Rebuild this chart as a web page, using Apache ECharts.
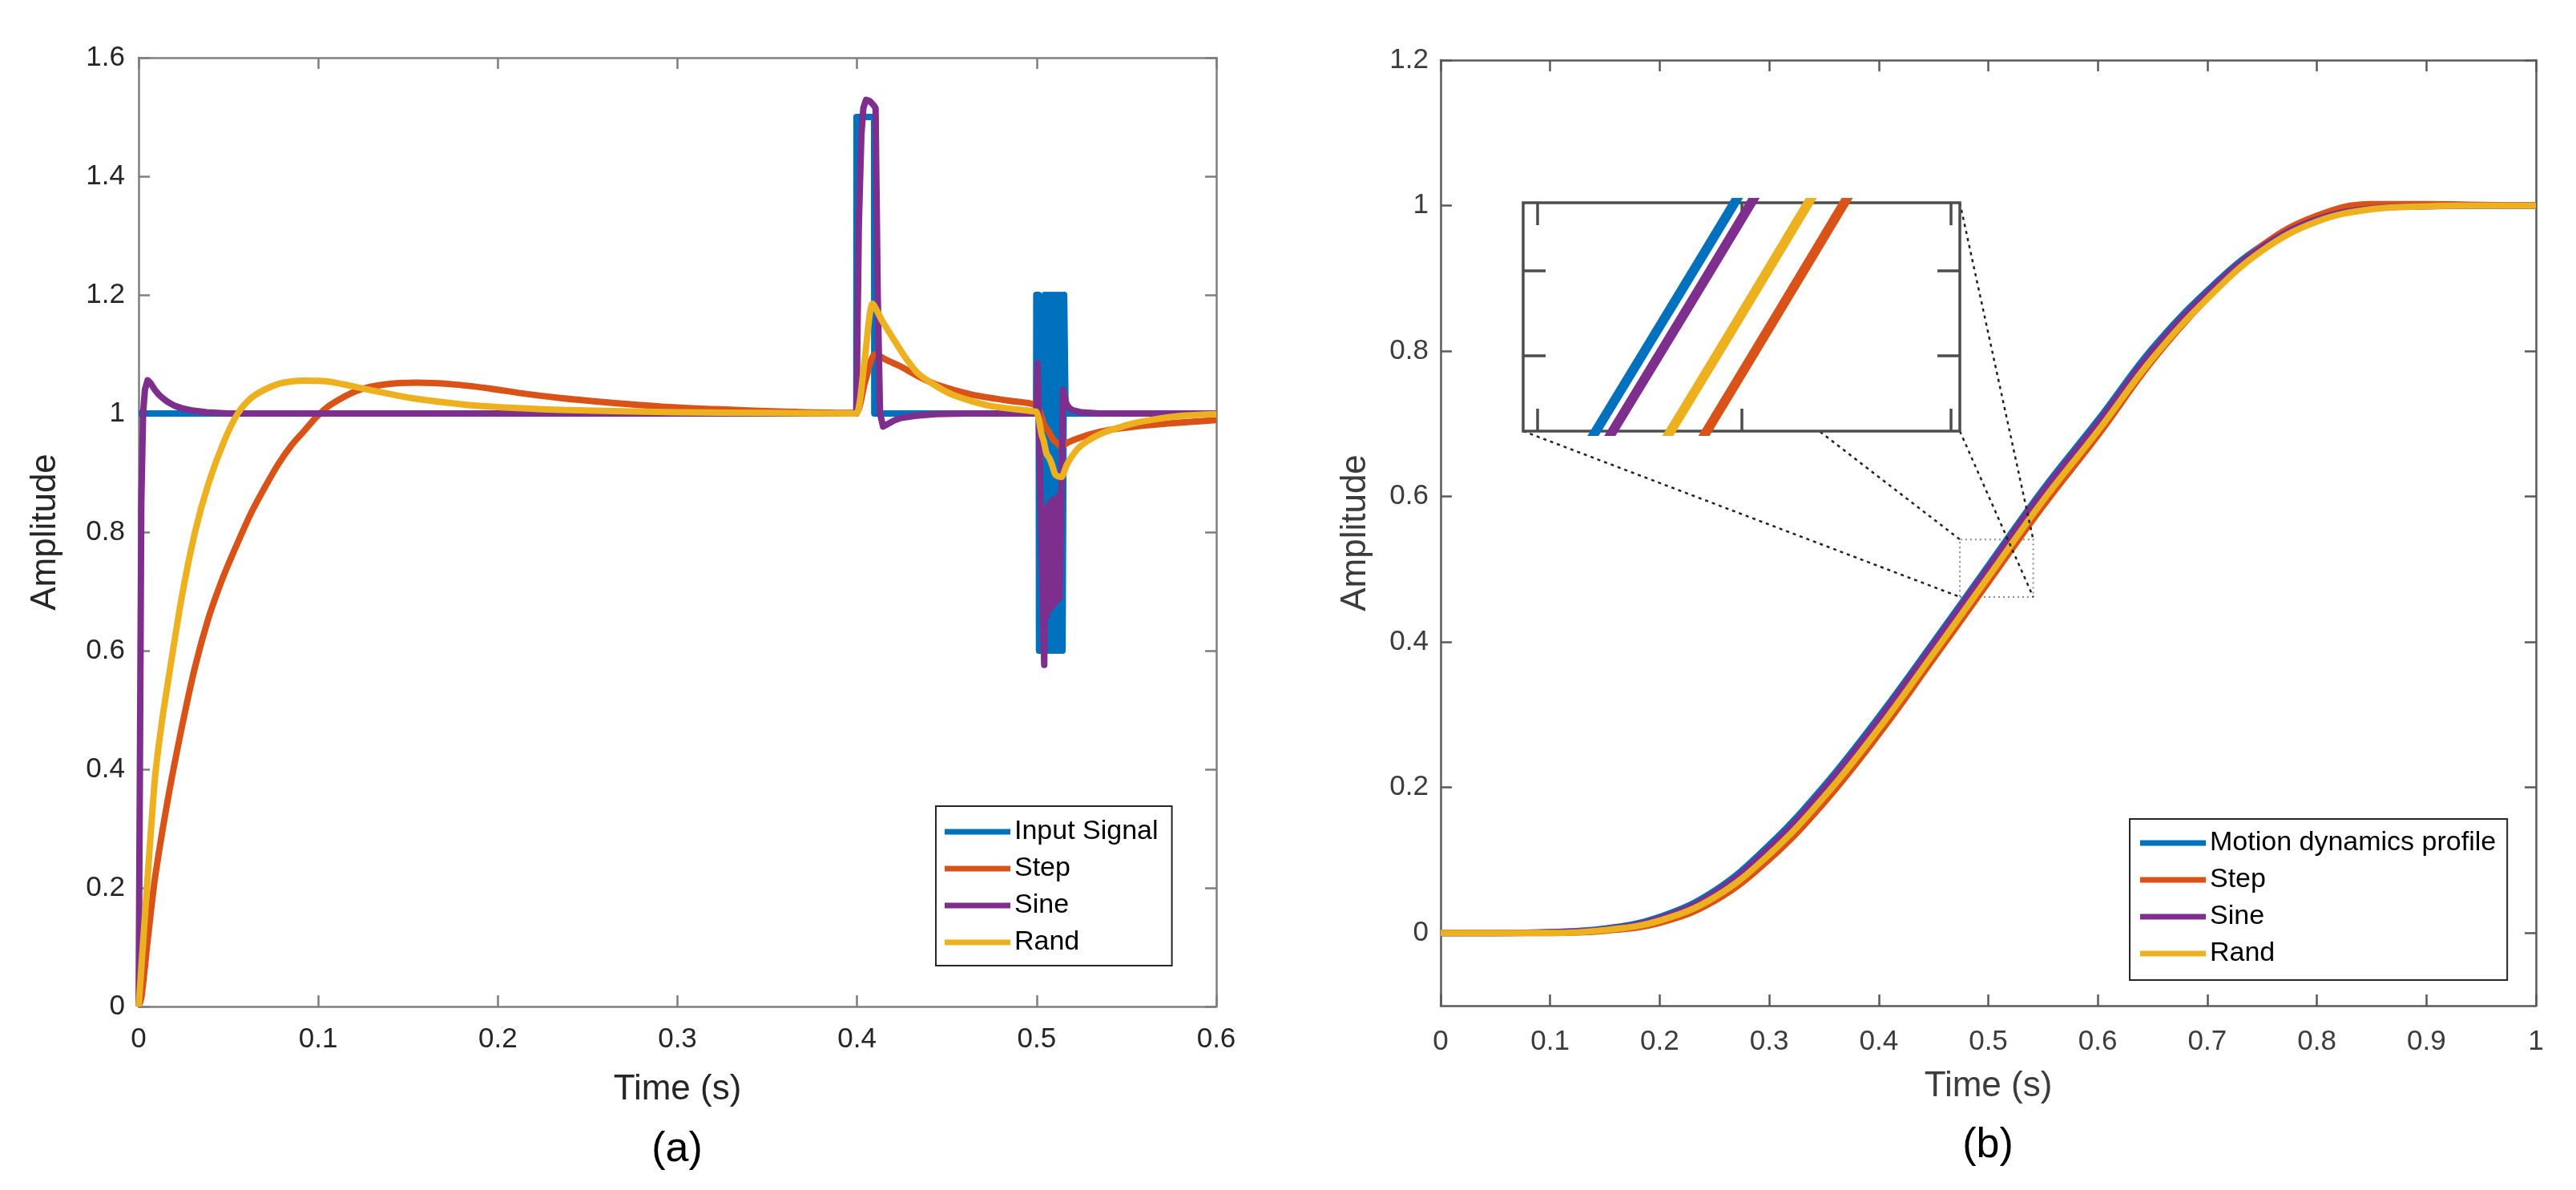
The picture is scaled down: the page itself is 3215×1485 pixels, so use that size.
<!DOCTYPE html>
<html>
<head>
<meta charset="utf-8">
<title>Amplitude responses</title>
<script src="https://cdn.jsdelivr.net/npm/echarts@6/dist/echarts.min.js"></script>
<style>
html, body { margin: 0; padding: 0; background: #fff; }
#main { width: 3215px; height: 1485px; }
</style>
</head>
<body>
<div id="main"></div>
<script type="text/javascript">
// ---- panel (a): input signal and the three responses ----
var inputT = [0, 0.3996, 0.3997, 0.4095, 0.4096, 0.4997, 0.4998, 0.5011, 0.5013, 0.5043, 0.5045, 0.5052, 0.5054, 0.5061, 0.5063, 0.507, 0.5072, 0.5079, 0.5081, 0.5088, 0.509, 0.5097, 0.5099, 0.5106, 0.5108, 0.5115, 0.5117, 0.5124, 0.5126, 0.5133, 0.5135, 0.5142, 0.5144, 0.5151, 0.5153, 0.516, 0.5161, 0.6];
var inputY = [1, 1, 1.5, 1.5, 1, 1, 1.2, 1.2, 0.6, 0.6, 1.2, 1.2, 0.6, 0.6, 1.2, 1.2, 0.6, 0.6, 1.2, 1.2, 0.6, 0.6, 1.2, 1.2, 0.6, 0.6, 1.2, 1.2, 0.6, 0.6, 1.2, 1.2, 0.6, 0.6, 1.2, 1.2, 1, 1];

var stepT = [0, 0.0016, 0.005, 0.009, 0.0165, 0.024, 0.0312, 0.0388, 0.046, 0.0514, 0.0626, 0.07, 0.0775, 0.085, 0.092, 0.099, 0.107, 0.122, 0.137, 0.155, 0.174, 0.196, 0.211, 0.235, 0.26, 0.29, 0.324, 0.36, 0.395, 0.3996, 0.4046, 0.41, 0.4165, 0.4238, 0.4339, 0.4439, 0.4637, 0.4836, 0.4998, 0.5027, 0.5042, 0.5072, 0.5094, 0.5116, 0.5132, 0.518, 0.523, 0.53, 0.54, 0.555, 0.573, 0.6];
var stepY = [0, 0.016, 0.11, 0.214, 0.353, 0.47, 0.57, 0.654, 0.716, 0.756, 0.832, 0.874, 0.9135, 0.946, 0.97, 0.994, 1.015, 1.039, 1.049, 1.052, 1.0495, 1.042, 1.035, 1.026, 1.019, 1.012, 1.007, 1.003, 1.001, 1.001, 1.055, 1.1, 1.09, 1.08, 1.063, 1.049, 1.032, 1.022, 1.014, 0.995, 0.981, 0.967, 0.955, 0.95, 0.945, 0.952, 0.958, 0.965, 0.972, 0.978, 0.983, 0.989];

var sineT = [0, 0.0008, 0.0015, 0.0025, 0.0035, 0.005, 0.0065, 0.009, 0.0115, 0.0134, 0.016, 0.02, 0.024, 0.03, 0.038, 0.05, 0.3996, 0.4, 0.401, 0.4024, 0.4035, 0.405, 0.407, 0.4092, 0.4103, 0.4115, 0.4128, 0.4145, 0.417, 0.4205, 0.4238, 0.432, 0.444, 0.46, 0.4998, 0.5005, 0.5042, 0.5052, 0.5058, 0.5066, 0.5072, 0.508, 0.5086, 0.5094, 0.51, 0.5108, 0.5114, 0.5122, 0.5128, 0.5147, 0.5165, 0.518, 0.5196, 0.525, 0.535, 0.6];
var sineY = [0, 0.45, 0.85, 1.0, 1.04, 1.056, 1.052, 1.04, 1.031, 1.026, 1.02, 1.013, 1.009, 1.005, 1.002, 1.0, 1.0, 1.08, 1.32, 1.47, 1.515, 1.529, 1.527, 1.52, 1.515, 1.2, 1.0, 0.978, 0.982, 0.988, 0.992, 0.996, 0.999, 1.0, 1.0, 1.085, 0.576, 0.84, 0.66, 0.845, 0.67, 0.85, 0.675, 0.855, 0.68, 0.855, 0.685, 0.86, 0.69, 1.04, 1.017, 1.01, 1.006, 1.002, 1.0, 1.0];

var randT = [0, 0.003, 0.006, 0.0091, 0.0125, 0.0165, 0.024, 0.0314, 0.0388, 0.0477, 0.0552, 0.0626, 0.07, 0.0775, 0.085, 0.0923, 0.1, 0.1072, 0.116, 0.125, 0.138, 0.1518, 0.1816, 0.2113, 0.2351, 0.264, 0.3, 0.35, 0.395, 0.3996, 0.4042, 0.4087, 0.4142, 0.4198, 0.4268, 0.4338, 0.4437, 0.4537, 0.4737, 0.4974, 0.4998, 0.5012, 0.5027, 0.5038, 0.5055, 0.507, 0.5085, 0.5102, 0.5118, 0.5138, 0.517, 0.523, 0.529, 0.5375, 0.5433, 0.5533, 0.5633, 0.58, 0.6];
var randY = [0, 0.13, 0.26, 0.385, 0.47, 0.55, 0.69, 0.8, 0.881, 0.954, 1.0, 1.026, 1.04, 1.0495, 1.054, 1.0554, 1.055, 1.0532, 1.048, 1.042, 1.034, 1.026, 1.015, 1.009, 1.006, 1.004, 1.002, 1.001, 1.0, 1.0, 1.09, 1.185, 1.155, 1.128, 1.095, 1.068, 1.047, 1.031, 1.013, 1.004, 1.003, 0.99, 0.965, 0.955, 0.932, 0.925, 0.914, 0.898, 0.894, 0.893, 0.915, 0.941, 0.955, 0.968, 0.974, 0.983, 0.989, 0.996, 0.999];

// ---- panel (b): motion profile tracking ----
var timeB    = [0, 0.05, 0.1, 0.15, 0.2, 0.25, 0.3, 0.35, 0.4, 0.45, 0.5, 0.55, 0.6, 0.65, 0.7, 0.75, 0.8, 0.85, 0.9, 0.95, 1.0];
var profileB = [0, 0, 0.001, 0.006, 0.022, 0.058, 0.121, 0.202, 0.297, 0.4, 0.505, 0.61, 0.705, 0.804, 0.883, 0.945, 0.982, 0.996, 1.0, 1.0, 1.0];
var stepB    = [0, 0, 0, 0.003, 0.014, 0.044, 0.101, 0.179, 0.273, 0.377, 0.482, 0.587, 0.684, 0.787, 0.873, 0.945, 0.986, 1.002, 1.002, 1.001, 1.0];
var sineB    = [0, 0, 0.001, 0.005, 0.020, 0.055, 0.117, 0.198, 0.293, 0.3965, 0.5015, 0.6065, 0.701, 0.80, 0.88, 0.943, 0.981, 0.996, 0.999, 1.0, 1.0];
var randB    = [0, 0, 0, 0.004, 0.017, 0.049, 0.108, 0.187, 0.281, 0.3845, 0.4895, 0.5945, 0.69, 0.79, 0.872, 0.938, 0.978, 0.995, 0.999, 1.0, 1.0];

var ticksBy = [0, 0.2, 0.4, 0.6, 0.8, 1, 1.2];

// zoomed window of panel (b)
var zoomBoxX = [0.474, 0.541];
var zoomBoxY = [0.462, 0.541];
var insetX = [0.486, 0.529];
var insetY = [0.4906, 0.5194];
var insetTicksX = [0.4874, 0.5075, 0.5281];
var insetTicksY = [0.5001, 0.5108];

var FONT = "'Liberation Sans', Arial, Helvetica, sans-serif";
var BLUE = '#0072BD', RED = '#D95319', PURPLE = '#7E2F8E', YELLOW = '#EDB120';
var LW = 8;

function pairs(t, y) {
    return t.map(function (v, i) { return [v, y[i]]; });
}

function valAxis(o) {
    var ax = {
        type: 'value',
        gridIndex: o.grid,
        position: o.pos,
        min: o.min,
        max: o.max,
        splitLine: { show: false },
        axisLine: { show: o.line !== false, onZero: false, lineStyle: { color: o.color, width: o.width || 2.5 } },
        axisTick: { show: true, inside: true, length: o.tick || 14, lineStyle: { color: o.color, width: o.width || 2.5 } },
        axisLabel: { show: !!o.label, margin: o.margin, fontSize: 35, color: o.textColor, fontFamily: FONT },
        z: o.z || 0
    };
    if (o.interval) ax.interval = o.interval;
    if (o.ticks) {
        ax.axisTick.customValues = o.ticks;
        ax.axisLabel.customValues = o.ticks;
    }
    if (o.name) {
        ax.name = o.name;
        ax.nameLocation = 'middle';
        ax.nameGap = o.nameGap;
        ax.nameTextStyle = { fontSize: 44, color: o.textColor, fontFamily: FONT };
    }
    return ax;
}

function line(name, t, y, color, xi, yi, w, z) {
    return {
        name: name, type: 'line', xAxisIndex: xi, yAxisIndex: yi,
        data: pairs(t, y), showSymbol: false, symbol: 'none',
        color: color, itemStyle: { color: color },
        lineStyle: { color: color, width: w, join: 'round' }, z: z || 2,
        animation: false
    };
}

var chart = echarts.init(document.getElementById('main'));

var GA = '#7f7f7f', TA = '#262626';
var GB = '#5a5a5a', TB = '#3c3c3c';
var GI = '#4d4d4d';

var seriesA = [
    line('Input Signal', inputT, inputY, BLUE, 0, 0, LW),
    line('Step', stepT, stepY, RED, 0, 0, LW),
    line('Sine', sineT, sineY, PURPLE, 0, 0, LW),
    line('Rand', randT, randY, YELLOW, 0, 0, LW)
];
seriesA[1].smooth = 0.25;
seriesA[3].smooth = 0.25;

var seriesB = [
    line('Motion dynamics profile', timeB, profileB, BLUE, 2, 2, LW),
    line('Step', timeB, stepB, RED, 2, 2, LW),
    line('Sine', timeB, sineB, PURPLE, 2, 2, LW),
    line('Rand', timeB, randB, YELLOW, 2, 2, LW)
];
seriesB.forEach(function (s) { s.smooth = 0.4; });
seriesB[0].markArea = {
    silent: true,
    itemStyle: { color: 'rgba(0,0,0,0)', borderColor: '#8a8a8a', borderWidth: 2, borderType: [2, 4] },
    data: [[{ coord: [zoomBoxX[0], zoomBoxY[0]] }, { coord: [zoomBoxX[1], zoomBoxY[1]] }]]
};

var seriesInset = [
    line('inset profile', timeB, profileB, BLUE, 4, 4, 12, 6),
    line('inset step', timeB, stepB, RED, 4, 4, 12, 6),
    line('inset sine', timeB, sineB, PURPLE, 4, 4, 12, 6),
    line('inset rand', timeB, randB, YELLOW, 4, 4, 12, 6)
];
seriesInset.forEach(function (s) { s.smooth = 0.4; s.clip = true; });

var option = {
    backgroundColor: '#fff',
    animation: false,
    grid: [
        { left: 173, top: 72, width: 1345, height: 1184 },
        { left: 1798, top: 75, width: 1367, height: 1180 },
        { left: 1901, top: 253, width: 545, height: 285, show: true, backgroundColor: '#fff',
          borderColor: GI, borderWidth: 3.5, z: 4 }
    ],
    xAxis: [
        valAxis({ grid: 0, pos: 'bottom', min: 0, max: 0.6, interval: 0.1, color: GA, textColor: TA,
                  label: true, margin: 24, name: 'Time (s)', nameGap: 82 }),
        valAxis({ grid: 0, pos: 'top', min: 0, max: 0.6, interval: 0.1, color: GA }),
        valAxis({ grid: 1, pos: 'bottom', min: 0, max: 1, interval: 0.1, color: GB, textColor: TB,
                  label: true, margin: 28, name: 'Time (s)', nameGap: 79 }),
        valAxis({ grid: 1, pos: 'top', min: 0, max: 1, interval: 0.1, color: GB }),
        valAxis({ grid: 2, pos: 'bottom', min: insetX[0], max: insetX[1], ticks: insetTicksX,
                  color: GI, width: 3.5, tick: 28, line: false, z: 5 }),
        valAxis({ grid: 2, pos: 'top', min: insetX[0], max: insetX[1], ticks: insetTicksX,
                  color: GI, width: 3.5, tick: 28, line: false, z: 5 })
    ],
    yAxis: [
        valAxis({ grid: 0, pos: 'left', min: 0, max: 1.6, interval: 0.2, color: GA, textColor: TA,
                  label: true, margin: 17, name: 'Amplitude', nameGap: 94 }),
        valAxis({ grid: 0, pos: 'right', min: 0, max: 1.6, interval: 0.2, color: GA }),
        valAxis({ grid: 1, pos: 'left', min: -0.1, max: 1.2, ticks: ticksBy, color: GB, textColor: TB,
                  label: true, margin: 15, name: 'Amplitude', nameGap: 84 }),
        valAxis({ grid: 1, pos: 'right', min: -0.1, max: 1.2, ticks: ticksBy, color: GB }),
        valAxis({ grid: 2, pos: 'left', min: insetY[0], max: insetY[1], ticks: insetTicksY,
                  color: GI, width: 3.5, tick: 28, line: false, z: 5 }),
        valAxis({ grid: 2, pos: 'right', min: insetY[0], max: insetY[1], ticks: insetTicksY,
                  color: GI, width: 3.5, tick: 28, line: false, z: 5 })
    ],
    legend: [
        {
            data: ['Input Signal', 'Step', 'Sine', 'Rand'],
            orient: 'vertical', left: 1168, top: 1006,
            icon: 'rect', itemWidth: 82, itemHeight: 7, itemGap: 12,
            padding: [15, 17, 12, 11],
            backgroundColor: '#fff', borderColor: '#262626', borderWidth: 2,
            selectedMode: false,
            textStyle: { fontSize: 34, lineHeight: 33, color: '#000', fontFamily: FONT }
        },
        {
            data: ['Motion dynamics profile', 'Step', 'Sine', 'Rand'],
            orient: 'vertical', left: 2658, top: 1022,
            icon: 'rect', itemWidth: 82, itemHeight: 7, itemGap: 12,
            padding: [13, 14, 16, 13],
            backgroundColor: '#fff', borderColor: '#262626', borderWidth: 2,
            selectedMode: false,
            textStyle: { fontSize: 34, lineHeight: 33, color: '#000', fontFamily: FONT }
        }
    ],
    series: seriesA.concat(seriesB, seriesInset)
};

chart.setOption(option);

// connectors from the inset corners to the zoomed window
function px(x, y, xi, yi) {
    return chart.convertToPixel({ xAxisIndex: xi, yAxisIndex: yi }, [x, y]);
}
var insetCorners = [
    px(insetX[0], insetY[1], 4, 4), px(insetX[1], insetY[1], 4, 4),
    px(insetX[0], insetY[0], 4, 4), px(insetX[1], insetY[0], 4, 4)
];
var boxCorners = [
    px(zoomBoxX[0], zoomBoxY[1], 2, 2), px(zoomBoxX[1], zoomBoxY[1], 2, 2),
    px(zoomBoxX[0], zoomBoxY[0], 2, 2), px(zoomBoxX[1], zoomBoxY[0], 2, 2)
];
var elements = insetCorners.map(function (c, i) {
    return {
        type: 'line', z: 3, silent: true,
        shape: { x1: c[0], y1: c[1], x2: boxCorners[i][0], y2: boxCorners[i][1] },
        style: { stroke: '#222', lineWidth: 2.5, lineDash: [4, 5] }
    };
});
elements.push(
    { type: 'text', x: 845, y: 1435, z: 10,
      style: { text: '(a)', fontSize: 52, fontFamily: FONT, fill: '#000', align: 'center', verticalAlign: 'middle',
               textAlign: 'center', textVerticalAlign: 'middle' } },
    { type: 'text', x: 2481, y: 1430, z: 10,
      style: { text: '(b)', fontSize: 52, fontFamily: FONT, fill: '#000', align: 'center', verticalAlign: 'middle',
               textAlign: 'center', textVerticalAlign: 'middle' } }
);
chart.setOption({ graphic: { elements: elements } });
</script>
</body>
</html>
